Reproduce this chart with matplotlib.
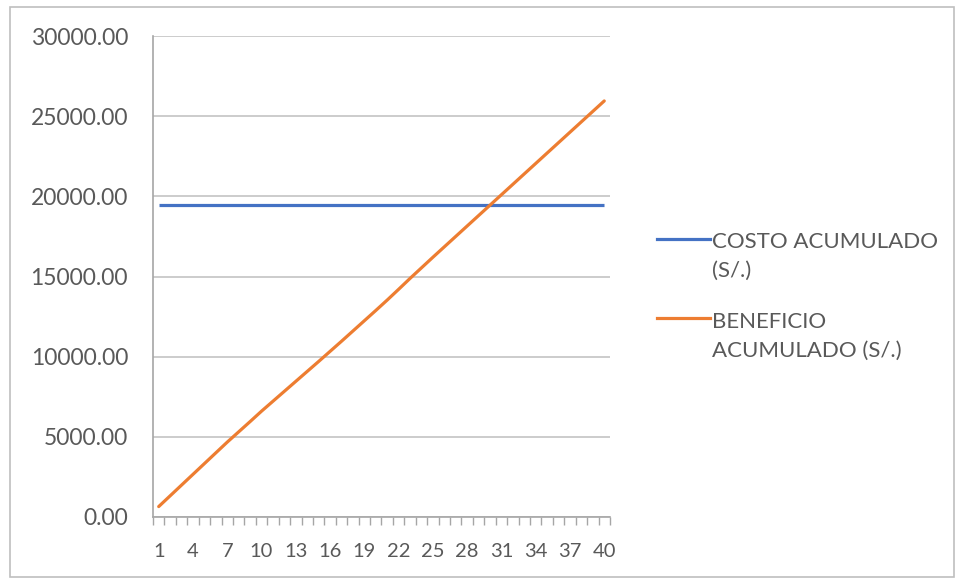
import numpy as np
import matplotlib
matplotlib.use('Agg')
import matplotlib.pyplot as plt
from matplotlib.lines import Line2D
from matplotlib.patches import Rectangle

plt.rcParams['font.family'] = ['Lato', 'DejaVu Sans']

# periodos 1..40
periodos = list(range(1, 41))

# costo acumulado (constante)
costo_acumulado = [19450] * 40

# beneficio acumulado
beneficio_acumulado = [
    650, 1320, 1990, 2660, 3330, 4000, 4670, 5310, 5950, 6600,
    7220, 7840, 8460, 9080, 9700, 10330, 10960, 11600, 12240, 12880,
    13530, 14200, 14880, 15540, 16200, 16850, 17500, 18150, 18800, 19450,
    20100, 20750, 21400, 22050, 22700, 23350, 24000, 24650, 25300, 25950,
]

series_labels = ['COSTO ACUMULADO\n(S/.)', 'BENEFICIO\nACUMULADO (S/.)']
y_ticks = [0, 5000, 10000, 15000, 20000, 25000, 30000]
x_label_ticks = periodos[::3]

azul = '#4472C4'
naranja = '#ED7D31'
texto = '#595959'

fig = plt.figure(figsize=(9.58, 5.79), dpi=100)
ax = fig.add_axes([0.1597, 0.1071, 0.4770, 0.8307])

# marco exterior del grafico
fig.patches.append(Rectangle((0.010, 0.004), 0.986, 0.984, transform=fig.transFigure,
                             fill=False, edgecolor='#BFBFBF', linewidth=1.2))

ax.plot(periodos, costo_acumulado, color=azul, lw=2.3, solid_capstyle='butt')
ax.plot(periodos, beneficio_acumulado, color=naranja, lw=2.3, solid_capstyle='round')

ax.set_xlim(0.5, 40.5)
ax.set_ylim(0, 30000)
ax.set_yticks(y_ticks)
ax.set_yticklabels(['%.2f' % v for v in y_ticks])
ax.yaxis.grid(True, color='#C4C4C4', lw=1.2)
ax.set_axisbelow(True)

# marcas entre categorias, etiquetas cada 3 periodos
ax.set_xticks(np.arange(0.5, 41, 1), minor=True)
ax.set_xticks(x_label_ticks)
ax.set_xticklabels([str(v) for v in x_label_ticks])
ax.tick_params(axis='x', which='major', length=0, pad=19, labelsize=14.5, colors=texto)
ax.tick_params(axis='x', which='minor', length=6, width=1, color='#A6A6A6', direction='out')
ax.tick_params(axis='y', length=0, pad=18, labelsize=16.5, colors=texto)

for s in ['top', 'right']:
    ax.spines[s].set_visible(False)
ax.spines['left'].set_color('#A6A6A6')
ax.spines['bottom'].set_color('#A6A6A6')
ax.spines['left'].set_linewidth(1.2)
ax.spines['bottom'].set_linewidth(1.2)

# leyenda
for color, label, yline, ytop in zip([azul, naranja], series_labels,
                                     [0.5872, 0.4508], [0.6000, 0.4618]):
    fig.add_artist(Line2D([0.686, 0.741], [yline, yline], transform=fig.transFigure,
                          color=color, lw=2.3))
    fig.text(0.743, ytop, label, ha='left', va='top', fontsize=16,
             color=texto, linespacing=1.55)

fig.savefig('out.png', dpi=100, facecolor='white')
